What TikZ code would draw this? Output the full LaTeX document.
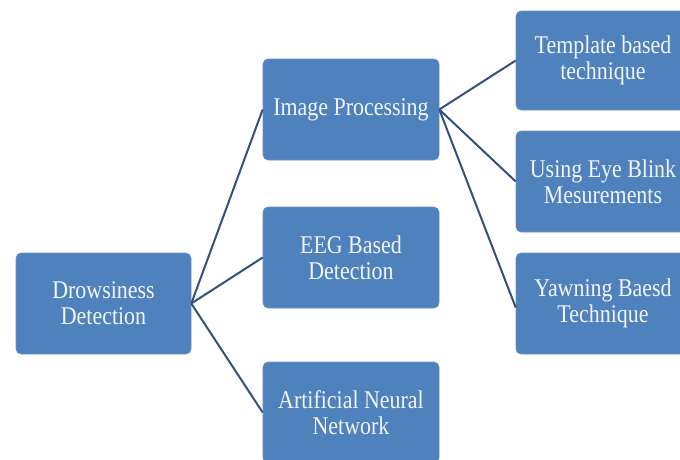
\documentclass[tikz,border=0pt]{standalone}
\usepackage{fontspec}
\newfontfamily\boxfont[FakeStretch=0.86]{Liberation Serif}
\definecolor{boxblue}{HTML}{4F81BD}
\definecolor{boxedge}{HTML}{6A93C8}
\definecolor{linkblue}{HTML}{34507E}
\definecolor{txt}{HTML}{F2F5FA}
\begin{document}
\begin{tikzpicture}[x=1pt,y=-1pt,
  card/.style={draw=boxedge,line width=0.6pt,fill=boxblue,rounded corners=5pt,
    minimum width=176pt,minimum height=101pt,align=center,text=txt,inner sep=2pt,
    font=\boxfont\fontsize{25.5}{26}\selectfont},
  link/.style={draw=linkblue,line width=2pt}]
\useasboundingbox (0,0) rectangle (680,459);
\clip (0,0) rectangle (680,459);
\node[card,minimum width=175pt] (dd) at (103.5,303.5) {Drowsiness\\Detection};
\node[card] (ip) at (351,109.5) {Image Processing};
\node[card] (eeg) at (351,257.5) {EEG Based\\Detection};
\node[card] (ann) at (351,412.5) {Artificial Neural\\Network};
\node[card,minimum width=174pt,minimum height=99pt] (tb) at (603,60.5) {Template based\\technique};
\node[card,minimum width=174pt] (eb) at (603,181.5) {Using Eye Blink\\Mesurements};
\node[card,minimum width=174pt] (yb) at (603,303.5) {Yawning Baesd\\Technique};
\draw[link] (dd.east) -- (ip.west);
\draw[link] (dd.east) -- (eeg.west);
\draw[link] (dd.east) -- (ann.west);
\draw[link] (ip.east) -- (tb.west);
\draw[link] (ip.east) -- (eb.west);
\draw[link] (ip.east) -- ([yshift=-4pt]yb.west);
\end{tikzpicture}
\end{document}
